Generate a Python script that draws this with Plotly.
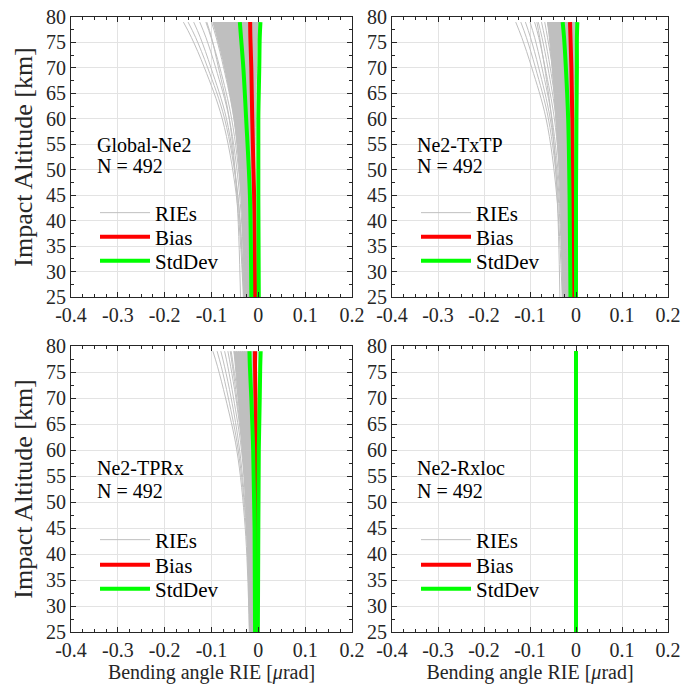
import plotly.graph_objects as go
from plotly.subplots import make_subplots

# ---------------- data ----------------
alt_levels = [25, 45, 60, 70, 76, 79]

x_tick_vals = [-0.4, -0.3, -0.2, -0.1, 0.0, 0.1, 0.2]
x_tick_text = ["-0.4", "-0.3", "-0.2", "-0.1", "0", "0.1", "0.2"]
y_tick_vals = [25, 30, 35, 40, 45, 50, 55, 60, 65, 70, 75, 80]

panel_names = ["Global-Ne2", "Ne2-TxTP", "Ne2-TPRx", "Ne2-Rxloc"]
panel_counts = [492, 492, 492, 492]

# representative RIE profiles (values at alt_levels)
ries_global = [
    [-0.032, -0.047, -0.077, -0.115, -0.143, -0.160],
    [-0.030, -0.044, -0.072, -0.108, -0.134, -0.150],
    [-0.031, -0.044, -0.068, -0.101, -0.124, -0.138],
    [-0.028, -0.040, -0.062, -0.091, -0.112, -0.125],
    [-0.027, -0.037, -0.057, -0.082, -0.101, -0.112],
    [-0.026, -0.035, -0.052, -0.074, -0.090, -0.100],
    [-0.025, -0.033, -0.050, -0.071, -0.086, -0.095],
    [-0.024, -0.032, -0.047, -0.067, -0.081, -0.090],
    [-0.023, -0.030, -0.045, -0.063, -0.077, -0.085],
    [-0.022, -0.029, -0.042, -0.060, -0.072, -0.080],
    [-0.021, -0.027, -0.040, -0.056, -0.068, -0.075],
    [-0.020, -0.026, -0.038, -0.053, -0.064, -0.070],
    [-0.019, -0.025, -0.035, -0.049, -0.059, -0.065],
    [-0.018, -0.023, -0.033, -0.045, -0.055, -0.060],
    [-0.017, -0.022, -0.030, -0.042, -0.050, -0.055],
    [-0.016, -0.020, -0.028, -0.038, -0.046, -0.050],
    [-0.015, -0.019, -0.026, -0.035, -0.041, -0.045],
    [-0.014, -0.017, -0.023, -0.031, -0.037, -0.040],
    [-0.013, -0.016, -0.021, -0.027, -0.032, -0.035],
    [-0.012, -0.014, -0.018, -0.024, -0.028, -0.030],
    [-0.011, -0.013, -0.016, -0.020, -0.023, -0.025],
    [-0.010, -0.011, -0.013, -0.015, -0.017, -0.018],
    [-0.009, -0.009, -0.009, -0.010, -0.010, -0.010],
    [-0.011, -0.010, -0.008, -0.005, -0.003, -0.002],
    [-0.038, -0.046, -0.062, -0.085, -0.100, -0.110],
]
ries_global_core_lo = [-0.030, -0.037, -0.052, -0.072, -0.088, -0.097]
ries_global_core_hi = [-0.009, -0.008, -0.006, -0.004, -0.002, 0.000]
bias_global = [-0.007, -0.009, -0.013, -0.015, -0.017, -0.0175]
std_global = [0.008, 0.009, 0.013, 0.017, 0.020, 0.022]

ries_txtp = [
    [-0.030, -0.042, -0.065, -0.096, -0.118, -0.131],
    [-0.028, -0.039, -0.060, -0.088, -0.108, -0.120],
    [-0.027, -0.037, -0.056, -0.081, -0.099, -0.110],
    [-0.026, -0.035, -0.052, -0.074, -0.090, -0.100],
    [-0.024, -0.032, -0.047, -0.067, -0.081, -0.090],
    [-0.022, -0.029, -0.043, -0.061, -0.074, -0.082],
    [-0.021, -0.027, -0.040, -0.056, -0.068, -0.075],
    [-0.020, -0.026, -0.037, -0.051, -0.062, -0.068],
    [-0.019, -0.024, -0.034, -0.047, -0.056, -0.062],
    [-0.018, -0.023, -0.031, -0.043, -0.051, -0.056],
    [-0.017, -0.021, -0.029, -0.038, -0.046, -0.050],
    [-0.016, -0.019, -0.026, -0.035, -0.041, -0.045],
    [-0.015, -0.018, -0.024, -0.031, -0.037, -0.040],
    [-0.014, -0.017, -0.021, -0.028, -0.032, -0.035],
    [-0.013, -0.015, -0.019, -0.024, -0.028, -0.030],
    [-0.012, -0.014, -0.017, -0.020, -0.023, -0.025],
    [-0.011, -0.012, -0.014, -0.017, -0.019, -0.020],
    [-0.010, -0.010, -0.011, -0.013, -0.013, -0.014],
    [-0.009, -0.009, -0.008, -0.008, -0.007, -0.007],
    [-0.010, -0.009, -0.007, -0.004, -0.002, -0.001],
    [-0.035, -0.041, -0.053, -0.068, -0.079, -0.085],
]
ries_txtp_core_lo = [-0.029, -0.034, -0.044, -0.052, -0.058, -0.062]
ries_txtp_core_hi = [-0.008, -0.007, -0.005, -0.003, -0.002, -0.001]
bias_txtp = [-0.006, -0.007, -0.008, -0.010, -0.012, -0.013]
std_txtp = [0.006, 0.007, 0.009, 0.012, 0.014, 0.016]

ries_tprx = [
    [-0.019, -0.028, -0.046, -0.070, -0.087, -0.097],
    [-0.018, -0.026, -0.043, -0.064, -0.079, -0.088],
    [-0.018, -0.025, -0.040, -0.058, -0.072, -0.080],
    [-0.017, -0.024, -0.036, -0.053, -0.065, -0.072],
    [-0.017, -0.023, -0.034, -0.048, -0.059, -0.065],
    [-0.016, -0.021, -0.031, -0.043, -0.053, -0.058],
    [-0.016, -0.020, -0.029, -0.039, -0.047, -0.052],
    [-0.015, -0.019, -0.026, -0.036, -0.043, -0.047],
    [-0.015, -0.018, -0.024, -0.033, -0.038, -0.042],
    [-0.014, -0.017, -0.022, -0.030, -0.035, -0.038],
    [-0.014, -0.016, -0.021, -0.027, -0.031, -0.034],
    [-0.013, -0.015, -0.019, -0.024, -0.028, -0.030],
    [-0.013, -0.015, -0.018, -0.021, -0.024, -0.026],
    [-0.012, -0.013, -0.016, -0.019, -0.021, -0.022],
    [-0.011, -0.012, -0.013, -0.016, -0.017, -0.018],
    [-0.010, -0.010, -0.011, -0.012, -0.013, -0.013],
    [-0.009, -0.009, -0.009, -0.008, -0.008, -0.008],
    [-0.008, -0.007, -0.006, -0.005, -0.004, -0.003],
    [-0.019, -0.024, -0.033, -0.046, -0.055, -0.060],
]
ries_tprx_core_lo = [-0.018, -0.023, -0.034, -0.043, -0.049, -0.052]
ries_tprx_core_hi = [-0.008, -0.007, -0.006, -0.005, -0.004, -0.003]
bias_tprx = [-0.004, -0.004, -0.005, -0.006, -0.007, -0.007]
std_tprx = [0.003, 0.004, 0.006, 0.009, 0.011, 0.012]

ries_rxloc = [
    [0.0, 0.0, 0.0, 0.0, 0.0, 0.0],
]
ries_rxloc_core_lo = [0.0, 0.0, 0.0, 0.0, 0.0, 0.0]
ries_rxloc_core_hi = [0.0, 0.0, 0.0, 0.0, 0.0, 0.0]
bias_rxloc = [0.0, 0.0, 0.0, 0.0, 0.0, 0.0]
std_rxloc = [0.0, 0.0, 0.0, 0.0, 0.0, 0.0]

panel_ries = [ries_global, ries_txtp, ries_tprx, ries_rxloc]
panel_core_lo = [ries_global_core_lo, ries_txtp_core_lo, ries_tprx_core_lo, ries_rxloc_core_lo]
panel_core_hi = [ries_global_core_hi, ries_txtp_core_hi, ries_tprx_core_hi, ries_rxloc_core_hi]
panel_bias = [bias_global, bias_txtp, bias_tprx, bias_rxloc]
panel_std = [std_global, std_txtp, std_tprx, std_rxloc]

legend_labels = ["RIEs", "Bias", "StdDev"]

# ---------------- styles ----------------
FONT = "Liberation Serif"
AXC = "#262626"
GRAY = "#bfbfbf"
RED = "#ff0000"
GREEN = "#00ff00"

W, H = 684, 686
x_dom = [[71 / W, 352 / W], [392 / W, 668 / W]]
y_dom = [[1 - 297 / H, 1 - 17 / H], [1 - 632 / H, 1 - 346 / H]]
legend_x_px = [95, 416]
legend_y_px = [[213, 237, 261], [540, 565, 589]]
label_y_frac = [[0.543, 0.468], [0.573, 0.493]]

fig = make_subplots(rows=2, cols=2)

positions = [(1, 1), (1, 2), (2, 1), (2, 2)]


def legend_id(k, j):
    idx = k * 3 + j + 1
    return "legend" if idx == 1 else f"legend{idx}"


for k, (r, c) in enumerate(positions):
    lg_rie, lg_bias, lg_std = legend_id(k, 0), legend_id(k, 1), legend_id(k, 2)

    # dense core of the RIE profiles (filled between two bounding profiles)
    fig.add_trace(go.Scatter(
        x=panel_core_lo[k], y=alt_levels, mode="lines",
        line=dict(color=GRAY, width=1, shape="spline"),
        showlegend=False, hoverinfo="skip"), row=r, col=c)
    fig.add_trace(go.Scatter(
        x=panel_core_hi[k], y=alt_levels, mode="lines",
        fill="tonextx", fillcolor=GRAY,
        line=dict(color=GRAY, width=1, shape="spline"),
        showlegend=False, hoverinfo="skip"), row=r, col=c)

    for i, prof in enumerate(panel_ries[k]):
        fig.add_trace(go.Scatter(
            x=prof, y=alt_levels, mode="lines",
            line=dict(color=GRAY, width=1, shape="spline"),
            name=legend_labels[0], legend=lg_rie, showlegend=(i == 0),
            hoverinfo="skip"), row=r, col=c)
    b = panel_bias[k]
    s = panel_std[k]
    fig.add_trace(go.Scatter(
        x=b, y=alt_levels, mode="lines",
        line=dict(color=RED, width=4, shape="spline"),
        name=legend_labels[1], legend=lg_bias), row=r, col=c)
    s_lo = [bv - sv for bv, sv in zip(b, s)]
    s_hi = [bv + sv for bv, sv in zip(b, s)]
    fig.add_trace(go.Scatter(
        x=s_lo, y=alt_levels, mode="lines",
        line=dict(color=GREEN, width=4, shape="spline"),
        name=legend_labels[2], legend=lg_std), row=r, col=c)
    fig.add_trace(go.Scatter(
        x=s_hi, y=alt_levels, mode="lines",
        line=dict(color=GREEN, width=4, shape="spline"),
        name=legend_labels[2], legend=lg_std, showlegend=False), row=r, col=c)

    xa = "xaxis" if k == 0 else f"xaxis{k + 1}"
    ya = "yaxis" if k == 0 else f"yaxis{k + 1}"
    xref = "x" if k == 0 else f"x{k + 1}"
    yref = "y" if k == 0 else f"y{k + 1}"

    fig.layout[xa].update(
        domain=x_dom[c - 1], range=[-0.4, 0.2],
        tickmode="array", tickvals=x_tick_vals, ticktext=x_tick_text,
        ticks="inside", ticklen=5, tickcolor=AXC,
        showline=True, linecolor=AXC, linewidth=1, mirror="ticks",
        showgrid=True, gridcolor="#e3e3e3", gridwidth=1, zeroline=False,
        tickfont=dict(family=FONT, size=20, color=AXC),
        minor=dict(dtick=0.025, ticks="inside", ticklen=3, tickcolor=AXC, showgrid=False),
        automargin=False,
    )
    fig.layout[ya].update(
        domain=y_dom[r - 1], range=[25, 80],
        tickmode="array", tickvals=y_tick_vals,
        ticks="inside", ticklen=5, tickcolor=AXC,
        showline=True, linecolor=AXC, linewidth=1, mirror="ticks",
        showgrid=True, gridcolor="#e3e3e3", gridwidth=1, zeroline=False,
        tickfont=dict(family=FONT, size=20, color=AXC),
        minor=dict(dtick=2.5, ticks="inside", ticklen=3, tickcolor=AXC, showgrid=False),
        automargin=False,
    )
    if c == 1:
        fig.layout[ya].title = dict(text="Impact Altitude [km]",
                                    font=dict(family=FONT, size=26, color=AXC),
                                    standoff=5)
    if r == 2:
        fig.layout[xa].title = dict(text="Bending angle RIE [<i>\u03bc</i>rad]",
                                    font=dict(family=FONT, size=20, color=AXC),
                                    standoff=2)

    for line_i, txt in enumerate([panel_names[k], f"N = {panel_counts[k]}"]):
        fig.add_annotation(
            x=0.085, xref=f"{xref} domain", y=label_y_frac[r - 1][line_i], yref=f"{yref} domain",
            xanchor="left", yanchor="middle", align="left", showarrow=False,
            text=txt, font=dict(family=FONT, size=20, color="#000000"))

    for j, lg in enumerate([lg_rie, lg_bias, lg_std]):
        fig.layout[lg] = dict(
            x=legend_x_px[c - 1] / W, y=1 - legend_y_px[r - 1][j] / H,
            xanchor="left", yanchor="middle",
            bgcolor="rgba(0,0,0,0)", borderwidth=0,
            font=dict(family=FONT, size=21, color="#000000"),
            itemwidth=50, tracegroupgap=0)

fig.update_layout(
    width=W, height=H,
    margin=dict(l=0, r=0, t=0, b=0),
    paper_bgcolor="white", plot_bgcolor="white",
)

fig.write_html("out.html")
